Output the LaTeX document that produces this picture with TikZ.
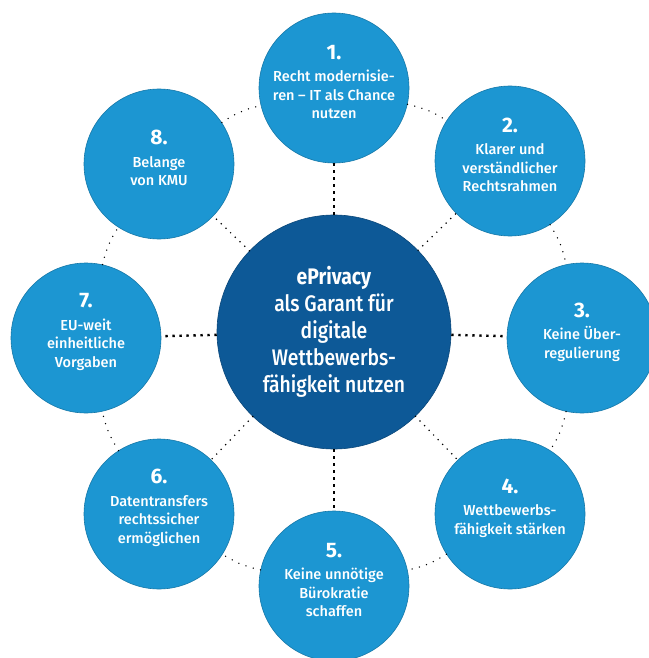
\documentclass[tikz,border=0pt]{standalone}
\usepackage{fontspec}
\setmainfont{Fira Sans}[UprightFont=* Medium, BoldFont=* Bold]
\newfontfamily\condf{Fira Sans}[UprightFont=* Medium, BoldFont=* Bold, FakeStretch=0.86]
\definecolor{outerblue}{RGB}{28,150,210}
\definecolor{innerblue}{RGB}{13,89,151}
\newcommand{\numf}{\fontsize{21}{24}\selectfont\bfseries}
\begin{document}
\begin{tikzpicture}[x=1pt,y=-1pt,
  sat/.style={circle, fill=outerblue, draw=outerblue!80!black, line width=0.6pt, minimum size=150pt, inner sep=0pt},
  hub/.style={circle, fill=innerblue, draw=innerblue!80!black, line width=0.6pt, minimum size=234pt, inner sep=0pt},
  sattext/.style={text=white, align=center, font=\fontsize{14.5}{18.5}\selectfont, yshift=6pt},
  hubtext/.style={text=white, align=center, font=\condf\fontsize{22.5}{27}\selectfont},
  bigdots/.style={line width=2.4pt, dash pattern=on 2.4pt off 4.6pt},
  smalldots/.style={line width=1.7pt, line cap=round, dash pattern=on 0pt off 6.5pt},
  ringdots/.style={line width=1.5pt, line cap=round, dash pattern=on 0pt off 7.5pt},
]
\useasboundingbox (0,0) rectangle (648,658);
\fill[white] (0,0) rectangle (648,658);

\node[hub] (c) at (334,332) {};
\node[sat] (s1) at (334,88) {};
\node[sat] (s2) at (510,161) {};
\node[sat] (s3) at (582,338) {};
\node[sat] (s4) at (510,514) {};
\node[sat] (s5) at (334,586) {};
\node[sat] (s6) at (159,514) {};
\node[sat] (s7) at (86,338) {};
\node[sat] (s8) at (159,164) {};

% radial connectors
\draw[bigdots] (c) -- (s1);
\draw[bigdots] (c) -- (s3);
\draw[bigdots] (c) -- (s5);
\draw[bigdots] (c) -- (s7);
\draw[smalldots] (c) -- (s2);
\draw[smalldots] (c) -- (s4);
\draw[smalldots] (c) -- (s6);
\draw[smalldots] (c) -- (s8);

% ring connectors
\draw[ringdots] (s1) to[bend left=10] (s2);
\draw[ringdots] (s2) to[bend left=10] (s3);
\draw[ringdots] (s3) to[bend left=10] (s4);
\draw[ringdots] (s4) to[bend left=10] (s5);
\draw[ringdots] (s5) to[bend left=10] (s6);
\draw[ringdots] (s6) to[bend left=10] (s7);
\draw[ringdots] (s7) to[bend left=10] (s8);
\draw[ringdots] (s8) to[bend left=10] (s1);

% texts
\node[hubtext] (tc) at (c) {{\bfseries ePrivacy}\\als Garant für\\digitale\\Wettbewerbs-\\fähigkeit nutzen};
\node[sattext] (t1) at (s1) {{\numf 1.}\\[4pt]Recht modernisie-\\ren -- IT als Chance\\nutzen};
\node[sattext] (t2) at (s2) {{\numf 2.}\\[4pt]Klarer und\\verständlicher\\Rechtsrahmen};
\node[sattext] (t3) at (s3) {{\numf 3.}\\[4pt]Keine Über-\\regulierung};
\node[sattext] (t4) at (s4) {{\numf 4.}\\[4pt]Wettbewerbs-\\fähigkeit stärken};
\node[sattext] (t5) at (s5) {{\numf 5.}\\[4pt]Keine unnötige\\Bürokratie\\schaffen};
\node[sattext] (t6) at (s6) {{\numf 6.}\\[4pt]Datentransfers\\rechtssicher\\ermöglichen};
\node[sattext] (t7) at (s7) {{\numf 7.}\\[4pt]EU-weit\\einheitliche\\Vorgaben};
\node[sattext] (t8) at (s8) {{\numf 8.}\\[4pt]Belange\\von KMU};
\end{tikzpicture}
\end{document}
